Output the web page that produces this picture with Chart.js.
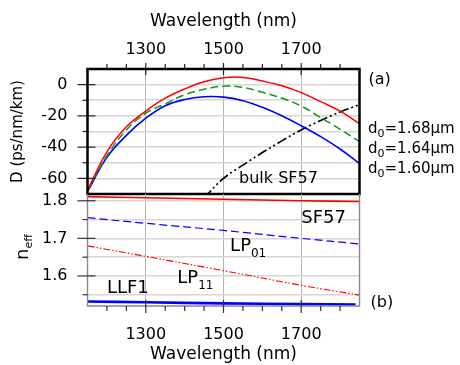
<!DOCTYPE html>
<html>
<head>
<meta charset="utf-8">
<script src="https://cdn.jsdelivr.net/npm/chart.js@4.4.0/dist/chart.umd.min.js"></script>
<style>
  body { margin: 0; background: #fff; }
  #wrap { position: relative; width: 460px; height: 365px; overflow: hidden; }
  canvas { position: absolute; left: 0; }
  #topChart { top: 0; }
  #botChart { top: 180px; }
</style>
</head>
<body>
<div id="wrap">
  <canvas id="topChart" width="460" height="200"></canvas>
  <canvas id="botChart" width="460" height="188"></canvas>
</div>
<script>
// ---- data ----
const wavelengths = [1150, 1200, 1250, 1300, 1350, 1400, 1450, 1500, 1550, 1600, 1650, 1700, 1750, 1800, 1850];
const dispD168 = [-67.6, -43, -27, -16.9, -8.7, -2.8, 1.8, 4.4, 4.6, 2.3, -0.7, -5.1, -10.9, -16.9, -25];
const dispD164 = [-68, -45.5, -29, -18.3, -12.3, -6.5, -3, -1, -1.8, -4.9, -8.6, -13.7, -21.1, -28.6, -36.5];
const dispD160 = [-68.5, -46.5, -32.5, -21.5, -13.5, -9.5, -7.8, -8.0, -10.3, -14.5, -19.9, -26.3, -33.3, -41.2, -50.5];

const bulkWl = [1450, 1500, 1550, 1600, 1650, 1700, 1750, 1800, 1850];
const bulkSF57 = [-72.5, -60, -51.5, -43.5, -36, -29, -23, -17.5, -12.8];

const neffWl = [1150, 1300, 1500, 1700, 1850];
const neffSF57 = [1.811, 1.808, 1.804, 1.800, 1.798];
const neffLP01 = [1.755, 1.740, 1.721, 1.700, 1.685];
const neffLP11 = [1.680, 1.652, 1.614, 1.575, 1.549];
const llf1Wl = [1150, 1300, 1500, 1700, 1840];
const neffLLF1 = [1.532, 1.530, 1.527, 1.525, 1.524];

const xLabels = [1300, 1500, 1700];
const dLabels = [0, -20, -40, -60];
const nLabels = [1.6, 1.7, 1.8];
const diamLabels = ['1.68', '1.64', '1.60'];

const FONT = 'DejaVu Sans';
const pts = (xs, ys) => xs.map((x, i) => ({ x: x, y: ys[i] }));
const isXMajor = v => xLabels.includes(v);
const isDMajor = v => dLabels.includes(v);
const isNMajor = v => nLabels.some(n => Math.abs(n - v) < 1e-6);
const onStep = (v, step) => Math.abs(v / step - Math.round(v / step)) < 1e-6;

const line = (data, color, width, dash) => ({
    data: data,
    borderColor: color,
    borderWidth: width,
    borderDash: dash || [],
    pointRadius: 0,
    fill: false,
    tension: 0.4
});

// text with a subscript part
const subText = (ctx, x, y, parts) => {
    let cx = x;
    parts.forEach(p => {
        ctx.font = p.size + 'px "' + FONT + '"';
        ctx.fillText(p.t, cx, y + (p.dy || 0));
        cx += ctx.measureText(p.t).width;
    });
};

const fitY = s => {
    s.width = 87.5;
    s.paddingTop = 0;
    s.paddingBottom = 0;
};

const xAxis = (pos, pad, fit) => ({
    type: 'linear',
    position: pos,
    min: 1150,
    max: 1850,
    afterFit: s => { s.height = fit; s.paddingLeft = 0; s.paddingRight = 0; },
    ticks: {
        stepSize: 50,
        autoSkip: false,
        includeBounds: false,
        maxRotation: 0,
        padding: pad,
        color: '#000',
        font: { family: FONT, size: 16 },
        callback: v => isXMajor(v) ? String(v) : ''
    },
    grid: {
        drawTicks: false,
        lineWidth: 1,
        color: c => isXMajor(c.tick.value) ? '#b4b4b4' : 'transparent'
    },
    border: { display: false },
    title: {
        display: true,
        text: 'Wavelength (nm)',
        color: '#000',
        font: { family: FONT, size: 17 },
        padding: pos === 'top' ? { top: 11, bottom: 0 } : { top: 0, bottom: 3 }
    }
});

// ---------------- top panel (a) ----------------
const topPlugin = {
    id: 'topDeco',
    afterDraw(chart) {
        const ctx = chart.ctx;
        const ca = chart.chartArea;
        const sx = chart.scales.x;
        const sy = chart.scales.y;
        ctx.save();
        ctx.strokeStyle = '#222';
        ctx.lineWidth = 1.2;
        sx.ticks.forEach(t => {
            if (t.value <= 1150 || t.value >= 1850) return;
            const px = sx.getPixelForValue(t.value);
            ctx.beginPath();
            if (isXMajor(t.value)) { ctx.moveTo(px, ca.top - 6); ctx.lineTo(px, ca.top + 6); }
            else { ctx.moveTo(px, ca.top - 5); ctx.lineTo(px, ca.top); }
            ctx.stroke();
        });
        sy.ticks.forEach(t => {
            if (t.value <= -70 || t.value >= 10) return;
            const py = sy.getPixelForValue(t.value);
            ctx.beginPath();
            if (isDMajor(t.value)) { ctx.moveTo(ca.left - 10, py); ctx.lineTo(ca.left + 8, py); }
            else { ctx.moveTo(ca.left - 5, py); ctx.lineTo(ca.left, py); }
            ctx.stroke();
        });
        ctx.strokeStyle = '#000';
        ctx.lineWidth = 2.5;
        ctx.strokeRect(ca.left, ca.top, ca.right - ca.left, ca.bottom - ca.top);

        ctx.fillStyle = '#000';
        ctx.textAlign = 'left';
        ctx.textBaseline = 'middle';
        ctx.font = '16px "' + FONT + '"';
        ctx.fillText('(a)', ca.right + 9, ca.top + 11);
        ctx.fillText('bulk SF57', sx.getPixelForValue(1540), sy.getPixelForValue(-60));

        ctx.textBaseline = 'alphabetic';
        diamLabels.forEach((d, i) => {
            subText(ctx, ca.right + 8.5, 133 + i * 20, [
                { t: 'd', size: 15 },
                { t: '0', size: 11, dy: 4 },
                { t: '=' + d + '\u03bcm', size: 15 }
            ]);
        });
        ctx.restore();
    }
};

new Chart(document.getElementById('topChart'), {
    type: 'line',
    data: {
        datasets: [
            line(pts(wavelengths, dispD168), '#ff0000', 1.5),
            line(pts(wavelengths, dispD164), '#119911', 1.5, [8, 4]),
            line(pts(wavelengths, dispD160), '#0000ff', 1.6),
            line(pts(bulkWl, bulkSF57), '#000000', 1.7, [10, 3, 2, 3, 2, 3])
        ]
    },
    options: {
        responsive: false,
        animation: false,
        layout: { padding: { left: 0, right: 100.5, top: 0, bottom: 6 } },
        plugins: { legend: { display: false }, tooltip: { enabled: false } },
        scales: {
            x: xAxis('top', 10, 69),
            y: {
                min: -70,
                max: 10,
                afterFit: fitY,
                ticks: {
                    stepSize: 10,
                    autoSkip: false,
                    includeBounds: false,
                    padding: 20,
                    color: '#000',
                    font: { family: FONT, size: 16 },
                    callback: v => isDMajor(v) ? String(v) : ''
                },
                grid: {
                    drawTicks: false,
                    lineWidth: 1.6,
                    color: c => (c.tick.value > -70 && c.tick.value < 10) ? '#d6d6d6' : 'transparent'
                },
                border: { display: false },
                title: {
                    display: true,
                    text: 'D (ps/nm/km)',
                    color: '#000',
                    font: { family: FONT, size: 15 },
                    padding: { top: 9, bottom: 0 }
                }
            }
        }
    },
    plugins: [topPlugin]
});

// ---------------- bottom panel (b) ----------------
const botPlugin = {
    id: 'botDeco',
    afterDraw(chart) {
        const ctx = chart.ctx;
        const ca = chart.chartArea;
        const sx = chart.scales.x;
        const sy = chart.scales.y;
        ctx.save();
        ctx.strokeStyle = '#888';
        ctx.lineWidth = 1.4;
        ctx.beginPath();
        ctx.moveTo(ca.left, ca.top);
        ctx.lineTo(ca.left, ca.bottom);
        ctx.lineTo(ca.right, ca.bottom);
        ctx.lineTo(ca.right, ca.top);
        ctx.stroke();

        ctx.strokeStyle = '#333';
        ctx.lineWidth = 1.2;
        sx.ticks.forEach(t => {
            if (t.value <= 1150 || t.value >= 1850) return;
            const px = sx.getPixelForValue(t.value);
            ctx.beginPath();
            if (isXMajor(t.value)) { ctx.moveTo(px, ca.bottom - 6); ctx.lineTo(px, ca.bottom + 7); }
            else { ctx.moveTo(px, ca.bottom); ctx.lineTo(px, ca.bottom + 5); }
            ctx.stroke();
        });
        sy.ticks.forEach(t => {
            if (!onStep(t.value, 0.05)) return;
            const py = sy.getPixelForValue(t.value);
            ctx.beginPath();
            if (isNMajor(t.value)) { ctx.moveTo(ca.left - 10, py); ctx.lineTo(ca.left + 8, py); }
            else { ctx.moveTo(ca.left - 5, py); ctx.lineTo(ca.left, py); }
            ctx.stroke();
        });

        ctx.fillStyle = '#000';
        ctx.textAlign = 'left';
        ctx.textBaseline = 'middle';
        ctx.font = '18px "' + FONT + '"';
        ctx.fillText('SF57', sx.getPixelForValue(1700), sy.getPixelForValue(1.752));
        ctx.fillText('LLF1', sx.getPixelForValue(1200), sy.getPixelForValue(1.567));
        subText(ctx, sx.getPixelForValue(1517), sy.getPixelForValue(1.680), [
            { t: 'LP', size: 18 }, { t: '01', size: 12, dy: 8 }
        ]);
        subText(ctx, sx.getPixelForValue(1381), sy.getPixelForValue(1.594), [
            { t: 'LP', size: 18 }, { t: '11', size: 12, dy: 8 }
        ]);
        ctx.font = '16px "' + FONT + '"';
        ctx.fillText('(b)', ca.right + 11, ca.bottom - 3);

        // rotated y title n_eff
        ctx.translate(28, 80);
        ctx.rotate(-Math.PI / 2);
        ctx.textBaseline = 'alphabetic';
        subText(ctx, 0, 0, [{ t: 'n', size: 18 }, { t: 'eff', size: 11, dy: 4 }]);
        ctx.restore();
    }
};

new Chart(document.getElementById('botChart'), {
    type: 'line',
    data: {
        datasets: [
            line(pts(neffWl, neffSF57), '#ff0000', 1.6),
            line(pts(neffWl, neffLP01), '#0000ff', 1.2, [8, 4]),
            line(pts(neffWl, neffLP11), '#ff0000', 1.1, [7, 2, 1.5, 2, 1.5, 2]),
            line(pts(llf1Wl, neffLLF1), '#0000ff', 2.6)
        ]
    },
    options: {
        responsive: false,
        animation: false,
        layout: { padding: { left: 0, right: 100.5, top: 14, bottom: 0 } },
        plugins: { legend: { display: false }, tooltip: { enabled: false } },
        scales: {
            x: xAxis('bottom', 19, 62),
            y: {
                min: 1.52,
                max: 1.818,
                afterFit: fitY,
                ticks: {
                    stepSize: 0.05,
                    autoSkip: false,
                    includeBounds: false,
                    padding: 20,
                    color: '#000',
                    font: { family: FONT, size: 16 },
                    callback: v => isNMajor(v) ? v.toFixed(1) : ''
                },
                grid: {
                    drawTicks: false,
                    lineWidth: 1.4,
                    color: c => onStep(c.tick.value, 0.05) ? '#d6d6d6' : 'transparent'
                },
                border: { display: false },
                title: { display: false }
            }
        }
    },
    plugins: [botPlugin]
});
</script>
</body>
</html>
